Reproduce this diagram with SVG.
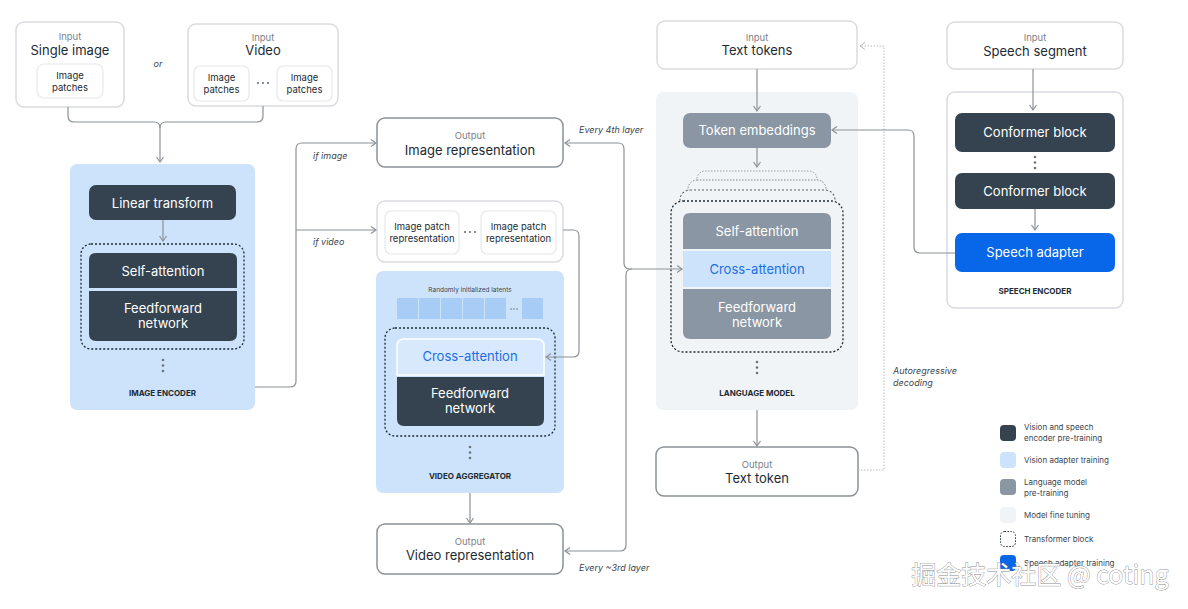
<svg xmlns="http://www.w3.org/2000/svg" width="1188" height="609" viewBox="0 0 1188 609">
<defs>
<style>
text{font-family:Inter,"Noto Sans","Liberation Sans",sans-serif;text-anchor:middle}
.lbl{font-size:9.5px;fill:#7b8288}
.main{font-size:13px;fill:#1c2b33}
.sm{font-size:9.5px;fill:#1c2b33}
.w{font-size:13px;fill:#ffffff}
.blu{font-size:13px;fill:#1b6fe4}
.sec{font-size:8px;font-weight:700;fill:#1c2b33}
.it{font-size:9px;font-style:italic;fill:#3a464f;text-anchor:start}
.leg{font-size:8px;fill:#3a464f;text-anchor:start}
.box{fill:#fff;stroke:#d9dcdf;stroke-width:1.5}
.inner{fill:#fff;stroke:#e6e8ea;stroke-width:1.2}
.out{fill:#fff;stroke:#8c9298;stroke-width:1.5}
.dark{fill:#34434f}
.gray{fill:#8a96a3}
.lb{fill:#cde3fb}
.tb{fill:none;stroke:#1c2b33;stroke-width:1.3;stroke-dasharray:2 2}
.con{fill:none;stroke:#8c9298;stroke-width:1.2}
.dot{fill:#6b747c}
</style>
<marker id="ah" markerWidth="8" markerHeight="8" refX="6" refY="4" orient="auto-start-reverse" markerUnits="userSpaceOnUse">
<path d="M1,0.5 L6,4 L1,7.5" fill="none" stroke="#8c9298" stroke-width="1.2"/>
</marker>
<marker id="ah2" markerWidth="8" markerHeight="8" refX="6" refY="4" orient="auto" markerUnits="userSpaceOnUse">
<path d="M1,0.5 L6,4 L1,7.5" fill="none" stroke="#b6babe" stroke-width="1"/>
</marker>
</defs>

<g id="image-encoder">
<rect x="70" y="164" width="185" height="246" rx="7" class="lb"/>
<rect x="89" y="185" width="147" height="35" rx="7" class="dark"/>
<text x="162.5" y="207.5" class="w">Linear transform</text>
<rect x="81" y="244" width="163" height="105" rx="10" class="tb"/>
<path d="M89,288 V260 Q89,253 96,253 H230 Q237,253 237,260 V288 Z" class="dark"/>
<path d="M89,291 H237 V334 Q237,341 230,341 H96 Q89,341 89,334 Z" class="dark"/>
<text x="163" y="275.5" class="w">Self-attention</text>
<text x="163" y="313" class="w">Feedforward</text>
<text x="163" y="328" class="w">network</text>
<circle cx="163" cy="360" r="1.3" class="dot"/><circle cx="163" cy="365.5" r="1.3" class="dot"/><circle cx="163" cy="371" r="1.3" class="dot"/>
<text x="162.5" y="396" class="sec">IMAGE ENCODER</text>
</g>

<g id="input-single-image">
<rect x="16" y="22" width="108" height="85" rx="8" class="box"/>
<text x="70" y="40" class="lbl">Input</text>
<text x="70" y="55" class="main">Single image</text>
<rect x="37" y="64" width="66" height="34" rx="7" class="inner"/>
<text x="70" y="79" class="sm">Image</text>
<text x="70" y="91" class="sm">patches</text>
</g>
<text x="158" y="67" class="it" style="text-anchor:middle">or</text>

<g id="input-video">
<rect x="188" y="24" width="150" height="82" rx="8" class="box"/>
<text x="263" y="41" class="lbl">Input</text>
<text x="263" y="55" class="main">Video</text>
<rect x="194" y="66" width="55" height="35" rx="6" class="inner"/>
<text x="221.5" y="81" class="sm">Image</text>
<text x="221.5" y="93" class="sm">patches</text>
<rect x="277" y="66" width="55" height="35" rx="6" class="inner"/>
<text x="304.5" y="81" class="sm">Image</text>
<text x="304.5" y="93" class="sm">patches</text>
<circle cx="258" cy="83" r="1.1" class="dot"/><circle cx="263" cy="83" r="1.1" class="dot"/><circle cx="268" cy="83" r="1.1" class="dot"/>
</g>

<g id="image-representation">
<rect x="377" y="118" width="186" height="49" rx="8" class="out"/>
<text x="470" y="139" class="lbl">Output</text>
<text x="470" y="155" class="main">Image representation</text>
</g>

<g id="image-patch-representations">
<rect x="377" y="201" width="186" height="61" rx="8" class="box"/>
<rect x="385" y="211" width="74" height="43" rx="6" class="inner"/>
<text x="422" y="230" class="sm">Image patch</text>
<text x="422" y="242" class="sm">representation</text>
<rect x="481" y="211" width="75" height="43" rx="6" class="inner"/>
<text x="518.5" y="230" class="sm">Image patch</text>
<text x="518.5" y="242" class="sm">representation</text>
<circle cx="465" cy="232" r="1.1" class="dot"/><circle cx="470" cy="232" r="1.1" class="dot"/><circle cx="475" cy="232" r="1.1" class="dot"/>
</g>

<g id="video-aggregator">
<rect x="376" y="271" width="188" height="222" rx="7" class="lb"/>
<text x="470" y="292" style="font-size:6.5px;fill:#3a464f">Randomly initialized latents</text>
<g fill="#a7cdf7">
<rect x="397" y="298" width="21" height="21"/>
<rect x="419" y="298" width="21" height="21"/>
<rect x="441" y="298" width="21" height="21"/>
<rect x="463" y="298" width="21" height="21"/>
<rect x="485" y="298" width="21" height="21"/>
<rect x="522" y="298" width="21" height="21"/>
</g>
<circle cx="511" cy="309" r="0.8" class="dot"/><circle cx="514" cy="309" r="0.8" class="dot"/><circle cx="517" cy="309" r="0.8" class="dot"/>
<rect x="385" y="328" width="170" height="108" rx="10" class="tb"/>
<path d="M397,375 V346 Q397,339 404,339 H537 Q544,339 544,346 V375 Z" fill="#d8e9fd" stroke="#ffffff" stroke-width="1.5"/>
<text x="470" y="361" class="blu">Cross-attention</text>
<path d="M397,377 H544 V419 Q544,426 537,426 H404 Q397,426 397,419 Z" class="dark"/>
<text x="470" y="398" class="w">Feedforward</text>
<text x="470" y="413" class="w">network</text>
<circle cx="470" cy="447" r="1.3" class="dot"/><circle cx="470" cy="452.5" r="1.3" class="dot"/><circle cx="470" cy="458" r="1.3" class="dot"/>
<text x="470" y="478.5" class="sec">VIDEO AGGREGATOR</text>
</g>

<g id="video-representation">
<rect x="377" y="524" width="186" height="50" rx="8" class="out"/>
<text x="470" y="545" class="lbl">Output</text>
<text x="470" y="560" class="main">Video representation</text>
</g>

<g id="input-text-tokens">
<rect x="657" y="21" width="200" height="48" rx="8" class="box"/>
<text x="757" y="41" class="lbl">Input</text>
<text x="757" y="55" class="main">Text tokens</text>
</g>

<g id="language-model">
<rect x="656" y="92" width="202" height="318" rx="7" fill="#f1f4f7"/>
<rect x="683" y="113" width="148" height="35" rx="7" class="gray"/>
<text x="757" y="135" class="w">Token embeddings</text>
<rect x="697" y="171" width="120" height="40" rx="8" fill="#f1f4f7" stroke="#9aa1a8" stroke-width="1" stroke-dasharray="1.5 1.5"/>
<rect x="688" y="180" width="138" height="40" rx="9" fill="#f1f4f7" stroke="#7f878e" stroke-width="1" stroke-dasharray="1.5 1.5"/>
<rect x="680" y="190" width="155" height="40" rx="10" fill="#f1f4f7" stroke="#5a636b" stroke-width="1.1" stroke-dasharray="2 2"/>
<rect x="671" y="201" width="172" height="151" rx="12" class="tb" style="fill:#f1f4f7"/>
<path d="M683,249 V220 Q683,213 690,213 H824 Q831,213 831,220 V249 Z" class="gray"/>
<text x="757" y="236" class="w">Self-attention</text>
<rect x="683" y="251" width="148" height="36" class="lb"/>
<text x="757" y="274" class="blu">Cross-attention</text>
<path d="M683,289 H831 V332 Q831,339 824,339 H690 Q683,339 683,332 Z" class="gray"/>
<text x="757" y="312" class="w">Feedforward</text>
<text x="757" y="327" class="w">network</text>
<circle cx="757" cy="362" r="1.3" class="dot"/><circle cx="757" cy="367.5" r="1.3" class="dot"/><circle cx="757" cy="373" r="1.3" class="dot"/>
<text x="757" y="396" class="sec">LANGUAGE MODEL</text>
</g>

<g id="text-token-output">
<rect x="656" y="447" width="202" height="49" rx="8" class="out"/>
<text x="757" y="468" class="lbl">Output</text>
<text x="757" y="483" class="main">Text token</text>
</g>

<g id="input-speech-segment">
<rect x="947" y="22" width="176" height="47" rx="8" class="box"/>
<text x="1035" y="41" class="lbl">Input</text>
<text x="1035" y="56" class="main">Speech segment</text>
</g>

<g id="speech-encoder">
<rect x="947" y="92" width="176" height="216" rx="8" class="box"/>
<rect x="955" y="113" width="160" height="39" rx="7" class="dark"/>
<text x="1035" y="137" class="w">Conformer block</text>
<circle cx="1035" cy="157" r="1.3" class="dot"/><circle cx="1035" cy="162.5" r="1.3" class="dot"/><circle cx="1035" cy="168" r="1.3" class="dot"/>
<rect x="955" y="173" width="160" height="36" rx="7" class="dark"/>
<text x="1035" y="195.5" class="w">Conformer block</text>
<rect x="955" y="233" width="160" height="39" rx="7" fill="#0866e8"/>
<text x="1035" y="257" class="w">Speech adapter</text>
<text x="1035" y="294" class="sec">SPEECH ENCODER</text>
</g>

<g id="connectors">
<path d="M68,107 V116 Q68,122 74,122 H154 Q160,122 160,128 V162" class="con" marker-end="url(#ah)"/>
<path d="M263,106 V116 Q263,122 257,122 H166 Q160,122 160,128" class="con"/>
<path d="M163,220 V241" class="con" marker-end="url(#ah)"/>
<path d="M255,387 H290 Q296,387 296,381 V149 Q296,143 302,143 H376" class="con" marker-end="url(#ah)"/>
<path d="M296,230 H376" class="con" marker-end="url(#ah)"/>
<path d="M563,230 H573 Q579,230 579,236 V351 Q579,357 573,357 H546" class="con" marker-end="url(#ah)"/>
<path d="M565,143 H618 Q624,143 624,149 V263 Q624,269 630,269 H682" class="con" marker-start="url(#ah)" marker-end="url(#ah)"/>
<path d="M632,269 Q626,269 626,275 V545 Q626,551 620,551 H565" class="con" marker-end="url(#ah)"/>
<path d="M470,493 V523" class="con" marker-end="url(#ah)"/>
<path d="M757,69 V111" class="con" marker-end="url(#ah)"/>
<path d="M757,148 V167" class="con" marker-end="url(#ah)"/>
<path d="M757,410 V446" class="con" marker-end="url(#ah)"/>
<path d="M858,470 H884 V46 H860" fill="none" stroke="#b6babe" stroke-width="1" stroke-dasharray="1.5 1.5" marker-end="url(#ah2)"/>
<path d="M1033,69 V110" class="con" marker-end="url(#ah)"/>
<path d="M1035,209 V230" class="con" marker-end="url(#ah)"/>
<path d="M955,253 H920 Q914,253 914,247 V136 Q914,130 908,130 H832" class="con" marker-end="url(#ah)"/>
</g>

<g id="connector-labels">
<text x="313" y="159" class="it">if image</text>
<text x="313" y="245" class="it">if video</text>
<text x="579" y="133" class="it">Every 4th layer</text>
<text x="579" y="571" class="it">Every ~3rd layer</text>
<text x="893" y="374" class="it">Autoregressive</text>
<text x="893" y="386" class="it">decoding</text>
</g>

<g id="legend">
<rect x="1000" y="425" width="16" height="16" rx="4" fill="#34434f"/>
<text x="1024" y="430" class="leg">Vision and speech</text>
<text x="1024" y="441" class="leg">encoder pre-training</text>
<rect x="1000" y="452" width="16" height="16" rx="4" fill="#cde3fb"/>
<text x="1024" y="463" class="leg">Vision adapter training</text>
<rect x="1000" y="479" width="16" height="16" rx="4" fill="#8a96a3"/>
<text x="1024" y="485" class="leg">Language model</text>
<text x="1024" y="496" class="leg">pre-training</text>
<rect x="1000" y="507" width="16" height="16" rx="4" fill="#f1f4f7"/>
<text x="1024" y="518" class="leg">Model fine tuning</text>
<rect x="1000.5" y="531.5" width="15" height="15" rx="4" fill="none" stroke="#1c2b33" stroke-width="1" stroke-dasharray="1.5 1.5"/>
<text x="1024" y="542" class="leg">Transformer block</text>
<rect x="1000" y="555" width="16" height="16" rx="4" fill="#0866e8"/>
<text x="1024" y="566" class="leg">Speech adapter training</text>
</g>

<text x="1040" y="584" style="font-family:'Noto Sans CJK SC','Noto Sans',sans-serif;font-size:25px;fill:#ffffff;stroke:#8a8a8a;stroke-width:0.8;paint-order:stroke">掘金技术社区 @ coting</text>
</svg>
